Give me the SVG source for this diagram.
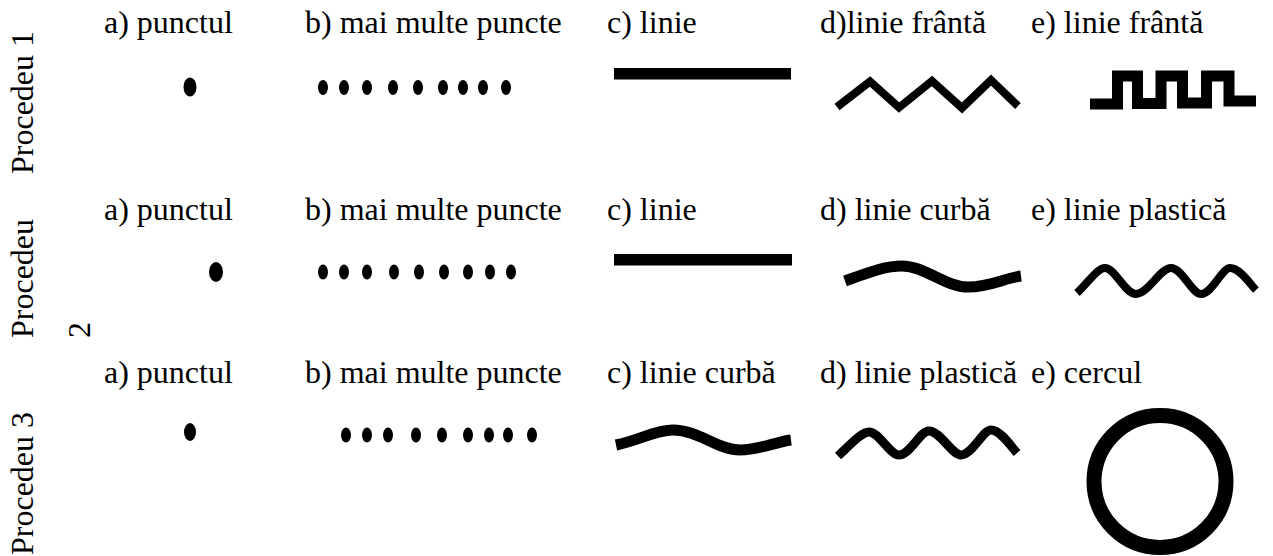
<svg xmlns="http://www.w3.org/2000/svg" width="1273" height="556" viewBox="0 0 1273 556">
<style>
text{font-family:"Liberation Serif","Times New Roman",Tinos,"DejaVu Serif","Noto Serif",serif;font-size:32px;fill:#000}
.ln{fill:none;stroke:#000;stroke-linecap:butt;stroke-linejoin:miter}
.d{fill:#000}
</style>
<rect width="1273" height="556" fill="#fff"/>
<g id="labels">
<text transform="translate(33,174) rotate(-90)">Procedeu 1</text>
<text transform="translate(33,338) rotate(-90)">Procedeu</text>
<text transform="translate(90,338) rotate(-90)">2</text>
<text transform="translate(33,555) rotate(-90)">Procedeu 3</text>
</g>
<g id="row1">
<g id="r1a"><text x="104" y="33">a) punctul</text><ellipse class="d" cx="190" cy="87" rx="6.5" ry="9.5"/></g>
<g id="r1b"><text x="305" y="33">b) mai multe puncte</text>
<ellipse class="d" cx="323" cy="87.5" rx="5" ry="7.5"/><ellipse class="d" cx="344" cy="87.5" rx="5" ry="7.5"/><ellipse class="d" cx="367" cy="87.5" rx="5" ry="7.5"/><ellipse class="d" cx="393" cy="87.5" rx="5" ry="7.5"/><ellipse class="d" cx="418" cy="87.5" rx="5" ry="7.5"/><ellipse class="d" cx="443" cy="87.5" rx="5" ry="7.5"/><ellipse class="d" cx="463" cy="87.5" rx="5" ry="7.5"/><ellipse class="d" cx="483" cy="87.5" rx="5" ry="7.5"/><ellipse class="d" cx="506" cy="87.5" rx="5" ry="7.5"/></g>
<g id="r1c"><text x="607" y="33">c) linie</text><rect x="614" y="68" width="177" height="11.5" fill="#000"/></g>
<g id="r1d"><text x="820" y="33">d)linie frântă</text><polyline class="ln" stroke-width="8" points="837,107 870,81.5 899,107.5 932,81 962,108 991,80 1018,106"/></g>
<g id="r1e"><text x="1031" y="33">e) linie frântă</text><path class="ln" stroke-width="11" d="M1090,104 H1117.5 V76 H1137.5 V103.5 H1161 V76 H1182.5 V103 H1206.5 V76 H1229 V101 H1256"/></g>
</g>
<g id="row2">
<g id="r2a"><text x="104" y="220">a) punctul</text><ellipse class="d" cx="216" cy="272" rx="7" ry="10"/></g>
<g id="r2b"><text x="305" y="220">b) mai multe puncte</text>
<ellipse class="d" cx="323" cy="272" rx="5" ry="7.5"/><ellipse class="d" cx="344" cy="272" rx="5" ry="7.5"/><ellipse class="d" cx="367" cy="272" rx="5" ry="7.5"/><ellipse class="d" cx="394" cy="272" rx="5" ry="7.5"/><ellipse class="d" cx="419" cy="272" rx="5" ry="7.5"/><ellipse class="d" cx="444" cy="272" rx="5" ry="7.5"/><ellipse class="d" cx="468" cy="272" rx="5" ry="7.5"/><ellipse class="d" cx="490" cy="272" rx="5" ry="7.5"/><ellipse class="d" cx="511" cy="272" rx="5" ry="7.5"/></g>
<g id="r2c"><text x="607" y="220">c) linie</text><rect x="614" y="254" width="178" height="11.5" fill="#000"/></g>
<g id="r2d"><text x="820" y="220">d) linie curbă</text><path class="ln" stroke-width="11" d="M845,281 C870,272 885,266 902,266 C925,266 945,287 968,287 C990,287 1005,278 1021,276"/></g>
<g id="r2e"><text x="1031" y="220">e) linie plastică</text><path class="ln" stroke-width="8" d="M1077,293 C1088,283 1097,268 1105,268 C1115,268 1125,294 1136,294 C1148,294 1160,268 1171,268 C1182,268 1192,294 1201,294 C1212,294 1222,268 1230,268 C1240,268 1250,284 1256,290"/></g>
</g>
<g id="row3">
<g id="r3a"><text x="104" y="383">a) punctul</text><ellipse class="d" cx="190" cy="432" rx="6" ry="9"/></g>
<g id="r3b"><text x="305" y="383">b) mai multe puncte</text>
<ellipse class="d" cx="346" cy="435" rx="5" ry="7.5"/><ellipse class="d" cx="367" cy="435" rx="5" ry="7.5"/><ellipse class="d" cx="388" cy="435" rx="5" ry="7.5"/><ellipse class="d" cx="416" cy="435" rx="5" ry="7.5"/><ellipse class="d" cx="442" cy="435" rx="5" ry="7.5"/><ellipse class="d" cx="468" cy="435" rx="5" ry="7.5"/><ellipse class="d" cx="489" cy="435" rx="5" ry="7.5"/><ellipse class="d" cx="508" cy="435" rx="5" ry="7.5"/><ellipse class="d" cx="532" cy="435" rx="5" ry="7.5"/></g>
<g id="r3c"><text x="607" y="383">c) linie curbă</text><path class="ln" stroke-width="11" d="M616,445 C640,440 655,430 673,430 C698,430 718,450 740,450 C760,450 775,442 791,440"/></g>
<g id="r3d"><text x="820" y="383">d) linie plastică</text><path class="ln" stroke-width="9" d="M838,456 C849,446 861,432 869,432 C879,432 890,455 899,455 C910,455 920,431 929,431 C940,431 952,455 961,455 C972,455 983,430 991,430 C1000,430 1010,445 1017,453"/></g>
<g id="r3e"><text x="1031" y="383">e) cercul</text><circle cx="1160" cy="481.5" r="66" fill="none" stroke="#000" stroke-width="15"/></g>
</g>
</svg>
